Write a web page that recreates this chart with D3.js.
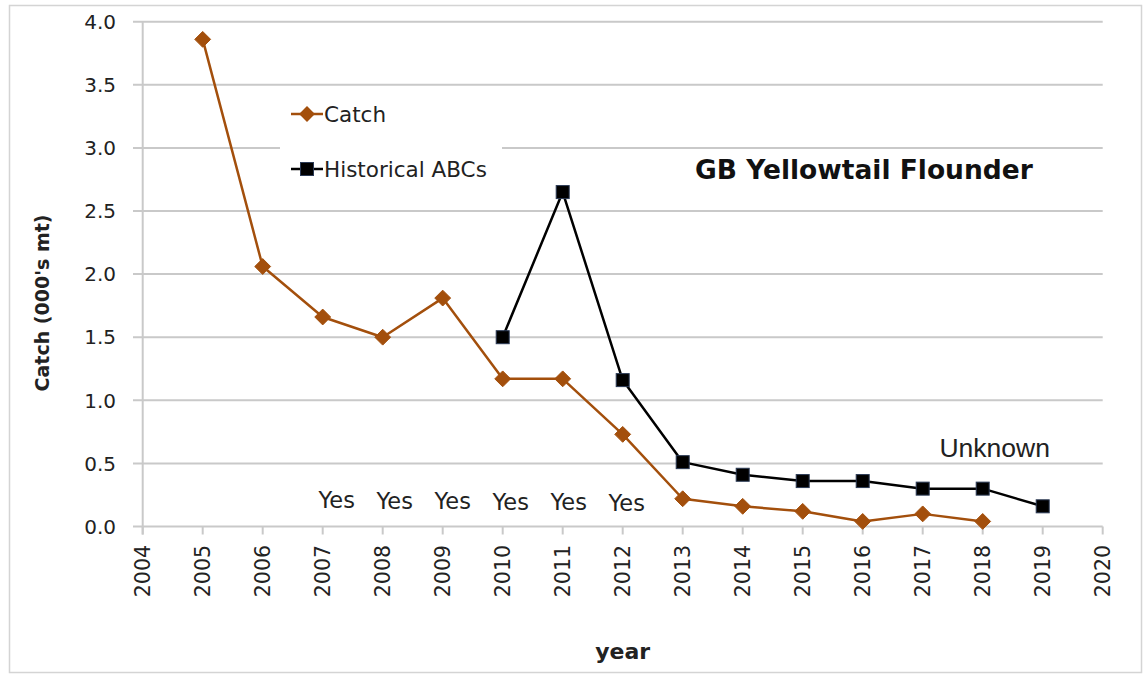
<!DOCTYPE html>
<html>
<head>
<meta charset="utf-8">
<script src="https://cdn.jsdelivr.net/npm/d3@7"></script>
<style>
  body { margin: 0; background: #fff; }
  svg { display: block; }
</style>
</head>
<body>
<div id="chart"></div>
<script>
// data
const catchYears = [2005, 2006, 2007, 2008, 2009, 2010, 2011, 2012, 2013, 2014, 2015, 2016, 2017, 2018];
const catchValues = [3.86, 2.06, 1.66, 1.50, 1.81, 1.17, 1.17, 0.73, 0.22, 0.16, 0.12, 0.04, 0.10, 0.04];
const abcYears = [2010, 2011, 2012, 2013, 2014, 2015, 2016, 2017, 2018, 2019];
const abcValues = [1.50, 2.65, 1.16, 0.51, 0.41, 0.36, 0.36, 0.30, 0.30, 0.16];
const yesYears = [2007, 2008, 2009, 2010, 2011, 2012];
const xTicks = d3.range(2004, 2021);
const yTicks = [0, 0.5, 1, 1.5, 2, 2.5, 3, 3.5, 4];

const W = 1143, H = 675;
const catchColor = "#A34F0C";
const gridColor = "#C9C9C9";

const svg = d3.select("#chart").append("svg")
    .attr("width", W)
    .attr("height", H);

// outer frame
svg.append("rect")
    .attr("x", 9.5).attr("y", 5.5)
    .attr("width", 1132).attr("height", 667)
    .attr("fill", "#fff")
    .attr("stroke", "#D4D4D4")
    .attr("stroke-width", 1.5);

let x = d3.scaleLinear().domain([2004, 2020]).range([142.7, 1102.7]);
let y = d3.scaleLinear().domain([0, 4]).range([526.5, 21.7]);

// horizontal gridlines (extend left as ticks)
yTicks.forEach(t =>
    svg.append("line")
        .attr("x1", 133).attr("x2", x(2020))
        .attr("y1", y(t)).attr("y2", y(t))
        .attr("stroke", gridColor)
        .attr("stroke-width", 2)
);

// y axis line
svg.append("line")
    .attr("x1", x(2004)).attr("x2", x(2004))
    .attr("y1", y(4)).attr("y2", y(0) + 8)
    .attr("stroke", gridColor)
    .attr("stroke-width", 2);

// x ticks
xTicks.forEach(t =>
    svg.append("line")
        .attr("x1", x(t)).attr("x2", x(t))
        .attr("y1", y(0)).attr("y2", y(0) + 8)
        .attr("stroke", gridColor)
        .attr("stroke-width", 2)
);

// y tick labels
yTicks.forEach(t =>
    svg.append("text")
        .attr("x", 116)
        .attr("y", y(t))
        .attr("dy", "0.36em")
        .attr("text-anchor", "end")
        .attr("font-family", "DejaVu Sans")
        .attr("font-size", 20)
        .attr("fill", "#222")
        .text(d3.format(".1f")(t))
);

// x tick labels, rotated
xTicks.forEach(t =>
    svg.append("text")
        .attr("transform", `translate(${x(t)},545) rotate(-90)`)
        .attr("dy", "0.36em")
        .attr("text-anchor", "end")
        .attr("font-family", "DejaVu Sans")
        .attr("font-size", 20.5)
        .attr("fill", "#222")
        .text(t)
);

// axis titles
svg.append("text")
    .attr("transform", `translate(42,303) rotate(-90)`)
    .attr("dy", "0.35em")
    .attr("text-anchor", "middle")
    .attr("font-family", "DejaVu Sans")
    .attr("font-weight", "bold")
    .attr("font-size", 19)
    .attr("fill", "#222")
    .text("Catch (000's mt)");

svg.append("text")
    .attr("x", (x(2004) + x(2020)) / 2)
    .attr("y", 659)
    .attr("text-anchor", "middle")
    .attr("font-family", "DejaVu Sans")
    .attr("font-weight", "bold")
    .attr("font-size", 22)
    .attr("fill", "#222")
    .text("year");

// legend background hides the gridline under it
svg.append("rect")
    .attr("x", 280).attr("y", 92)
    .attr("width", 222).attr("height", 106)
    .attr("fill", "#fff");

// title
svg.append("text")
    .attr("x", 695)
    .attr("y", 179)
    .attr("font-family", "DejaVu Sans")
    .attr("font-weight", "bold")
    .attr("font-size", 26.5)
    .attr("fill", "#111")
    .text("GB Yellowtail Flounder");

let line = d3.line()
    .x(d => x(d[0]))
    .y(d => y(d[1]));

let catchData = catchYears.map((yr, i) => [yr, catchValues[i]]);
let abcData = abcYears.map((yr, i) => [yr, abcValues[i]]);

let diamond = d3.symbol().type(d3.symbolDiamond2).size(160);

// catch series
svg.append("path")
    .datum(catchData)
    .attr("d", line)
    .attr("fill", "none")
    .attr("stroke", catchColor)
    .attr("stroke-width", 2.5)
    .attr("stroke-linejoin", "round");

svg.selectAll(".catchPt")
    .data(catchData)
    .enter().append("path")
    .attr("class", "catchPt")
    .attr("transform", d => `translate(${x(d[0])},${y(d[1])})`)
    .attr("d", diamond)
    .attr("fill", catchColor)
    .attr("stroke", catchColor)
    .attr("stroke-width", 1);

// historical ABC series
svg.append("path")
    .datum(abcData)
    .attr("d", line)
    .attr("fill", "none")
    .attr("stroke", "#000")
    .attr("stroke-width", 2.5)
    .attr("stroke-linejoin", "round");

svg.selectAll(".abcPt")
    .data(abcData)
    .enter().append("rect")
    .attr("class", "abcPt")
    .attr("x", d => x(d[0]) - 6.5)
    .attr("y", d => y(d[1]) - 6.5)
    .attr("width", 13).attr("height", 13)
    .attr("fill", "#000")
    .attr("stroke", "#2B3A55")
    .attr("stroke-width", 1);

// legend entries
function legendItem(cy, label, color, square) {
    svg.append("line")
        .attr("x1", 291).attr("x2", 323)
        .attr("y1", cy).attr("y2", cy)
        .attr("stroke", color)
        .attr("stroke-width", 2.5);
    if (square) {
        svg.append("rect")
            .attr("x", 307 - 6.5).attr("y", cy - 6.5)
            .attr("width", 13).attr("height", 13)
            .attr("fill", "#000")
            .attr("stroke", "#2B3A55");
    } else {
        svg.append("path")
            .attr("transform", `translate(307,${cy})`)
            .attr("d", diamond)
            .attr("fill", color);
    }
    svg.append("text")
        .attr("x", 324)
        .attr("y", cy)
        .attr("dy", "0.36em")
        .attr("font-family", "DejaVu Sans")
        .attr("font-size", 21.5)
        .attr("fill", "#222")
        .text(label);
}
legendItem(114, "Catch", catchColor, false);
legendItem(169, "Historical ABCs", "#000", true);

// "Yes" annotations (typed as a text box, so spacing is a bit tighter than the years)
yesYears.forEach((yr, i) =>
    svg.append("text")
        .attr("x", x(yr) + 14 - i * 2)
        .attr("y", 508 + i * 0.6)
        .attr("text-anchor", "middle")
        .attr("font-family", "DejaVu Sans")
        .attr("font-size", 22.5)
        .attr("fill", "#222")
        .text("Yes")
);

svg.append("text")
    .attr("x", x(2018) + 12)
    .attr("y", 457)
    .attr("text-anchor", "middle")
    .attr("font-family", "Liberation Sans")
    .attr("font-size", 26.5)
    .attr("fill", "#222")
    .text("Unknown");
</script>
</body>
</html>
